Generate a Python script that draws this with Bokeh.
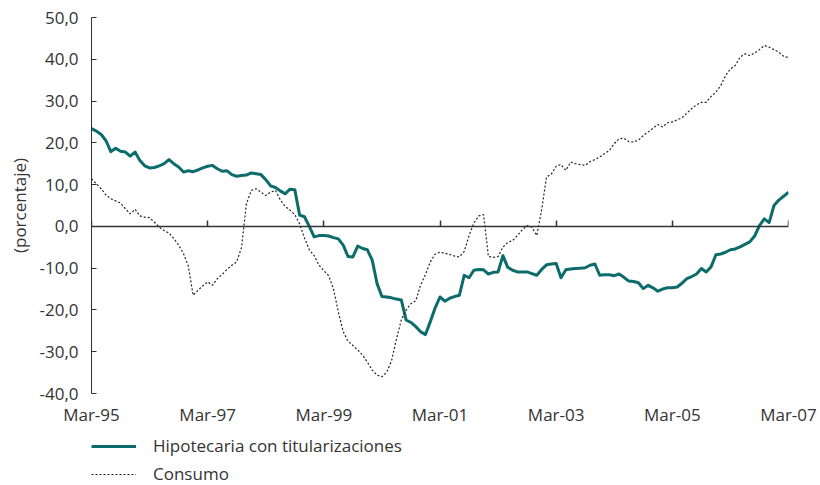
from bokeh.plotting import figure
from bokeh.layouts import column
from bokeh.models import (Range1d, FixedTicker, LinearAxis, Legend, LegendItem,
                          ColumnDataSource)
from bokeh.embed import file_html
from bokeh.resources import INLINE

# ---- data (monthly, Mar-95 .. Mar-07) ----
hipotecaria = [
    23.4, 22.8, 22.0, 20.5, 17.9, 18.7, 18.0, 17.8, 16.8, 17.8, 15.8, 14.5,
    14.0, 14.1, 14.5, 15.0, 16.0, 15.0, 14.2, 13.0, 13.3, 13.1, 13.5, 14.0,
    14.4, 14.6, 13.8, 13.2, 13.3, 12.4, 12.0, 12.2, 12.3, 12.8, 12.6, 12.4,
    11.2, 9.7, 9.3, 8.5, 7.8, 8.9, 8.8, 2.7, 2.3, 0.0, -2.5, -2.2,
    -2.2, -2.3, -2.7, -3.0, -4.5, -7.2, -7.3, -4.7, -5.3, -5.6, -8.1, -13.7,
    -16.8, -16.9, -17.1, -17.4, -17.6, -22.4, -23.0, -24.0, -25.2, -25.9, -22.8, -19.5,
    -16.9, -17.9, -17.2, -16.8, -16.5, -11.7, -12.3, -10.5, -10.3, -10.4, -11.4, -11.0,
    -10.9, -7.0, -9.8, -10.5, -10.9, -10.9, -10.9, -11.3, -11.7, -10.3, -9.2, -9.0,
    -8.9, -12.3, -10.4, -10.2, -10.1, -10.0, -9.9, -9.3, -9.0, -11.7, -11.6, -11.6,
    -11.8, -11.4, -12.2, -13.1, -13.2, -13.5, -14.9, -14.1, -14.7, -15.5, -15.0, -14.7,
    -14.7, -14.5, -13.6, -12.5, -12.0, -11.4, -10.1, -10.9, -9.7, -6.8, -6.6, -6.2,
    -5.6, -5.4, -4.9, -4.3, -3.7, -2.3, 0.2, 1.8, 0.9, 5.0, 6.3, 7.2,
    8.2,
]
consumo = [
    11.4, 10.2, 9.0, 7.5, 6.6, 6.1, 5.6, 4.2, 3.0, 4.1, 2.5, 2.2,
    2.1, 1.0, -0.2, -1.0, -1.6, -2.9, -4.5, -6.5, -9.5, -16.5, -15.3, -14.2,
    -13.3, -14.1, -12.5, -11.5, -10.3, -9.3, -8.5, -5.0, 5.4, 8.6, 9.0, 8.2,
    7.4, 8.2, 8.6, 6.4, 4.8, 3.9, 2.8, 0.6, -2.8, -5.6, -7.0, -9.3,
    -10.6, -11.8, -15.0, -20.5, -25.2, -27.5, -28.5, -29.6, -30.8, -32.5, -34.4, -35.6,
    -36.0, -34.9, -32.1, -27.0, -22.4, -20.0, -18.5, -17.8, -14.0, -11.5, -8.5, -6.6,
    -6.2, -6.4, -6.7, -7.1, -7.3, -6.0, -2.2, 0.8, 2.5, 2.8, -7.2, -7.4,
    -7.2, -5.0, -3.8, -3.4, -2.2, -0.8, 0.2, -0.2, -2.2, 4.0, 11.8, 12.5,
    14.4, 14.8, 13.4, 15.4, 15.0, 14.8, 14.6, 15.5, 16.0, 16.6, 17.4, 18.2,
    19.8, 21.0, 21.1, 20.3, 20.2, 20.6, 21.8, 22.6, 23.5, 24.4, 23.8, 24.8,
    25.0, 25.5, 26.0, 27.1, 28.2, 29.1, 29.7, 29.7, 31.1, 32.1, 33.7, 36.1,
    37.7, 38.5, 40.5, 41.3, 40.9, 41.5, 42.3, 43.3, 42.9, 42.3, 41.7, 40.7,
    40.4,
]
month_index = list(range(len(hipotecaria)))

x_tick_pos = [0, 24, 48, 72, 96, 120, 144]
x_tick_labels = ["Mar-95", "Mar-97", "Mar-99", "Mar-01", "Mar-03", "Mar-05", "Mar-07"]
y_tick_pos = [-40, -30, -20, -10, 0, 10, 20, 30, 40, 50]
y_tick_labels = ["-40,0", "-30,0", "-20,0", "-10,0", "0,0", "10,0", "20,0", "30,0", "40,0", "50,0"]
series_names = ["Hipotecaria con titularizaciones", "Consumo"]

FONT = "Open Sans"
TXT = "#333333"
TEAL = "#0c6b6b"
TEAL_W = 3
DOT_COLOR = "#222222"
DOT_W = 1.2
DOT_DASH = "2 2"

src = ColumnDataSource(dict(x=month_index, h=hipotecaria, c=consumo))

p = figure(width=820, height=430, output_backend="svg", toolbar_location=None,
           x_range=Range1d(0, 144), y_range=Range1d(-40, 50),
           min_border_left=91, min_border_right=32, min_border_top=17,
           min_border_bottom=37)
p.outline_line_color = None
p.grid.grid_line_color = None
p.background_fill_color = "white"
p.border_fill_color = "white"

# y axis
ya = p.yaxis[0]
ya.ticker = FixedTicker(ticks=y_tick_pos)
ya.major_label_overrides = dict(zip(y_tick_pos, y_tick_labels))
ya.major_tick_in = 5
ya.major_tick_out = 0
ya.minor_tick_line_color = None
ya.axis_line_color = TXT
ya.major_tick_line_color = TXT
ya.major_label_text_font = FONT
ya.major_label_text_font_size = "17px"
ya.major_label_text_color = TXT
ya.major_label_standoff = 13
ya.axis_label = "(porcentaje)"
ya.axis_label_text_font = FONT
ya.axis_label_text_font_size = "17px"
ya.axis_label_text_font_style = "normal"
ya.axis_label_text_color = TXT
ya.axis_label_standoff = 5

# x axis: labels only at the bottom
xa = p.xaxis[0]
xa.ticker = FixedTicker(ticks=x_tick_pos)
xa.major_label_overrides = dict(zip(x_tick_pos, x_tick_labels))
xa.axis_line_color = None
xa.major_tick_line_color = None
xa.minor_tick_line_color = None
xa.major_label_text_font = FONT
xa.major_label_text_font_size = "17px"
xa.major_label_text_color = TXT
xa.major_label_standoff = 3

# zero-line axis with upward ticks
za = LinearAxis(fixed_location=0, ticker=FixedTicker(ticks=x_tick_pos),
                major_tick_in=6, major_tick_out=0, major_label_standoff=0,
                axis_line_color=TXT, axis_line_width=1.5,
                major_tick_line_color=TXT, major_tick_line_width=1.5,
                minor_tick_line_color=None,
                major_label_text_font_size="0px", major_label_text_alpha=0)
p.add_layout(za, "below")

p.line("x", "h", source=src, line_color=TEAL, line_width=TEAL_W, line_join="round")
p.line("x", "c", source=src, line_color=DOT_COLOR, line_width=DOT_W, line_dash=DOT_DASH)

# legend strip below the chart (same series, drawn outside its visible y window,
# so only the legend samples show)
pl = figure(width=820, height=55, output_backend="svg", toolbar_location=None,
            x_range=Range1d(0, 144), y_range=Range1d(1000, 1001),
            x_axis_location=None, y_axis_location=None,
            min_border_left=91, min_border_right=32, min_border_top=0,
            min_border_bottom=0)
pl.outline_line_color = None
pl.grid.grid_line_color = None
pl.background_fill_color = "white"
pl.border_fill_color = "white"
lr1 = pl.line("x", "h", source=src, line_color=TEAL, line_width=TEAL_W)
lr2 = pl.line("x", "c", source=src, line_color=DOT_COLOR, line_width=DOT_W, line_dash=DOT_DASH)
legend = Legend(items=[LegendItem(label=series_names[0], renderers=[lr1]),
                       LegendItem(label=series_names[1], renderers=[lr2])],
                location=(0, 0), orientation="vertical",
                glyph_width=45, glyph_height=18, label_height=18,
                label_standoff=17, spacing=5, padding=0, margin=0,
                border_line_color=None, background_fill_alpha=0,
                label_text_font=FONT, label_text_font_size="17px",
                label_text_color=TXT)
pl.add_layout(legend, "center")

layout = column(p, pl, spacing=0)
open("out.html", "w").write(file_html(layout, INLINE))
